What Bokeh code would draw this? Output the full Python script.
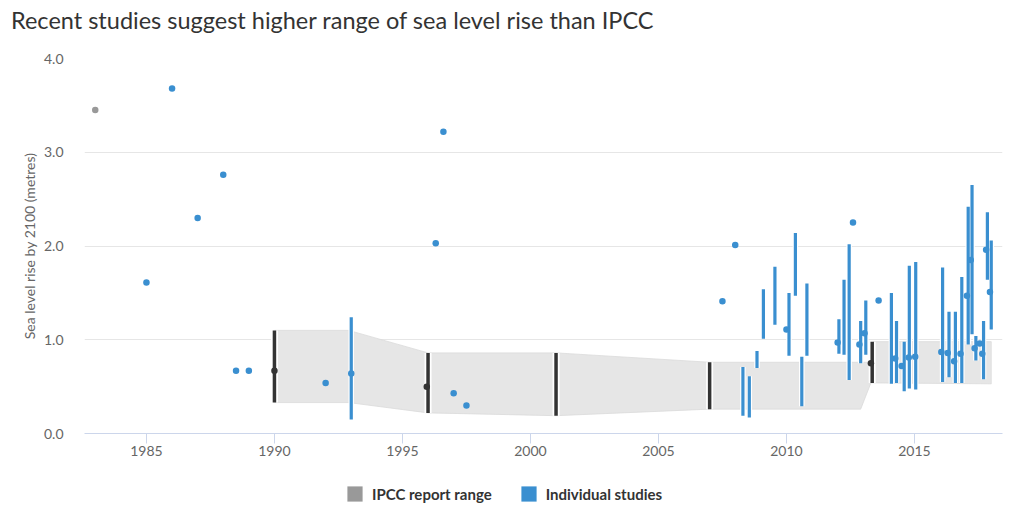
from bokeh.plotting import figure
from bokeh.layouts import column
from bokeh.models import (Range1d, FixedTicker, NumeralTickFormatter, Legend, LegendItem,
                          ColumnDataSource, Div)
from bokeh.embed import file_html
from bokeh.resources import INLINE

# ---------------- data ----------------
title_text = "Recent studies suggest higher range of sea level rise than IPCC"
y_label = "Sea level rise by 2100 (metres)"
legend_labels = ["IPCC report range", "Individual studies"]
x_ticks = [1985, 1990, 1995, 2000, 2005, 2010, 2015]
y_ticks = [0, 1, 2, 3, 4]

# IPCC report ranges (vertical bars)
ipcc_years = [1990.0, 1996.0, 2001.0, 2007.0, 2013.35]
ipcc_low = [0.33, 0.22, 0.19, 0.26, 0.54]
ipcc_high = [1.10, 0.86, 0.86, 0.76, 0.98]

# IPCC central estimates (black dots)
ipcc_pt_years = [1990.0, 1995.95, 2013.3]
ipcc_pt_vals = [0.67, 0.50, 0.75]

# early IPCC-related estimate (grey dot)
grey_pt_years = [1983.0]
grey_pt_vals = [3.45]

# shaded IPCC envelope
band_years = [1990.0, 1992.9, 1996.0, 2001.0, 2007.0, 2012.9, 2013.3, 2013.4, 2018.0]
band_low = [0.33, 0.33, 0.22, 0.19, 0.26, 0.26, 0.54, 0.54, 0.53]
band_high = [1.10, 1.10, 0.86, 0.86, 0.76, 0.76, 0.76, 0.98, 0.98]

# individual studies: central estimates
study_pt_years = [1985.0, 1986.0, 1987.0, 1988.0, 1988.5, 1989.0, 1992.0, 1993.0,
                  1996.3, 1996.6, 1997.0, 1997.5, 2007.5, 2008.0, 2010.0, 2012.0,
                  2012.6, 2012.85, 2013.05, 2013.6, 2014.25, 2014.5, 2014.78, 2015.03,
                  2016.05, 2016.3, 2016.55, 2016.8, 2017.05, 2017.2, 2017.35, 2017.55,
                  2017.65, 2017.8, 2017.95]
study_pt_vals = [1.61, 3.68, 2.30, 2.76, 0.67, 0.67, 0.54, 0.64,
                 2.03, 3.22, 0.43, 0.30, 1.41, 2.01, 1.11, 0.97,
                 2.25, 0.95, 1.07, 1.42, 0.80, 0.72, 0.81, 0.82,
                 0.87, 0.86, 0.77, 0.85, 1.47, 1.85, 0.91, 0.96,
                 0.85, 1.96, 1.51]

# individual studies: ranges
study_rng_years = [1993.0, 2008.3, 2008.55, 2008.85, 2009.1, 2009.55, 2010.1, 2010.35,
                   2010.6, 2010.8, 2012.05, 2012.25, 2012.45, 2012.9, 2013.1, 2014.1,
                   2014.3, 2014.6, 2014.8, 2015.05, 2016.1, 2016.35, 2016.6, 2016.85,
                   2017.1, 2017.25, 2017.4, 2017.7, 2017.85, 2018.0]
study_rng_low = [0.15, 0.19, 0.17, 0.70, 1.01, 1.16, 0.83, 1.47,
                 0.29, 0.83, 0.85, 0.84, 0.57, 0.75, 0.84, 0.53,
                 0.54, 0.45, 0.48, 0.47, 0.55, 0.60, 0.54, 0.54,
                 0.95, 1.06, 0.78, 0.58, 1.64, 1.11]
study_rng_high = [1.24, 0.71, 0.61, 0.88, 1.54, 1.78, 1.50, 2.14,
                  0.82, 1.60, 1.22, 1.64, 2.02, 1.20, 1.42, 1.50,
                  1.20, 0.98, 1.79, 1.83, 1.77, 1.30, 1.30, 1.67,
                  2.42, 2.65, 1.04, 1.20, 2.36, 2.06]

# ---------------- style ----------------
FONT = "Lato"
BLUE = "#3a8fd0"
GREY = "#999999"
DARK = "#333333"
BAND = "#e6e6e6"
W = 1020

# ---- title strip ----
TOP_H = 44
top = Div(text=title_text, width=W, height=TOP_H, margin=0,
          styles={"font-family": FONT, "font-size": "23.5px", "color": DARK,
                  "padding-left": "11px", "padding-top": "6px", "line-height": "28px",
                  "box-sizing": "border-box", "white-space": "nowrap"})

# ---- main chart ----
p = figure(frame_width=918, frame_height=375, output_backend="svg", toolbar_location=None,
           x_range=Range1d(1982.58, 2018.44), y_range=Range1d(0, 4),
           min_border_left=84, min_border_right=W - 84 - 918, min_border_top=58 - TOP_H,
           min_border_bottom=36)
p.outline_line_color = None
p.background_fill_color = "white"

band_xs = band_years + band_years[::-1]
band_ys = band_high + band_low[::-1]
p.patch(band_xs, band_ys, fill_color=BAND, line_color="#dadada", line_width=0.8)

ipcc_src = ColumnDataSource(dict(x=ipcc_years, lo=ipcc_low, hi=ipcc_high))
p.segment(x0="x", x1="x", y0="lo", y1="hi", source=ipcc_src, line_color="white", line_width=7)
p.segment(x0="x", x1="x", y0="lo", y1="hi", source=ipcc_src, line_color=DARK, line_width=3.5)

st_src = ColumnDataSource(dict(x=study_rng_years, lo=study_rng_low, hi=study_rng_high))
p.segment(x0="x", x1="x", y0="lo", y1="hi", source=st_src, line_color="white", line_width=5.5)
p.segment(x0="x", x1="x", y0="lo", y1="hi", source=st_src, line_color=BLUE, line_width=3.2)

p.scatter(grey_pt_years, grey_pt_vals, size=6.5, fill_color=GREY, line_color=None)
p.scatter(ipcc_pt_years, ipcc_pt_vals, size=6.5, fill_color=DARK, line_color=None)
p.scatter(study_pt_years, study_pt_vals, size=6.5, fill_color=BLUE, line_color=None)

p.xgrid.grid_line_color = None
p.ygrid.grid_line_color = "#e6e6e6"
p.ygrid.grid_line_width = 1

p.xaxis.ticker = FixedTicker(ticks=x_ticks)
p.xaxis.axis_line_color = "#ccd6eb"
p.xaxis.major_tick_line_color = "#ccd6eb"
p.xaxis.major_tick_out = 10
p.xaxis.major_tick_in = 0
p.xaxis.minor_tick_line_color = None
p.xaxis.major_label_text_font = FONT
p.xaxis.major_label_text_font_size = "14px"
p.xaxis.major_label_text_color = "#666666"
p.xaxis.major_label_standoff = 2

p.yaxis.ticker = FixedTicker(ticks=y_ticks)
p.yaxis.formatter = NumeralTickFormatter(format="0.0")
p.yaxis.axis_line_color = None
p.yaxis.major_tick_line_color = None
p.yaxis.minor_tick_line_color = None
p.yaxis.major_label_text_font = FONT
p.yaxis.major_label_text_font_size = "14px"
p.yaxis.major_label_text_color = "#666666"
p.yaxis.major_label_standoff = 15
p.yaxis.axis_label = y_label
p.yaxis.axis_label_text_font = FONT
p.yaxis.axis_label_text_font_size = "14px"
p.yaxis.axis_label_text_font_style = "normal"
p.yaxis.axis_label_text_color = "#666666"
p.yaxis.axis_label_standoff = 3

# ---- legend strip (its frame is aligned with the main chart's frame) ----
BOT_H = 52
bot = figure(width=W, height=BOT_H, output_backend="svg", toolbar_location=None,
             x_range=Range1d(0, 918), y_range=Range1d(0, BOT_H),
             x_axis_location=None, y_axis_location=None,
             min_border_left=0, min_border_right=0, min_border_top=0, min_border_bottom=0)
bot.outline_line_color = None
bot.xgrid.grid_line_color = None
bot.ygrid.grid_line_color = None
# swatch renderers kept outside the visible range; only their legend glyphs show
swatch_src = ColumnDataSource(dict(l=[-60], r=[-50], b=[0], t=[10]))
lg_grey = bot.quad(left="l", right="r", bottom="b", top="t", source=swatch_src,
                   fill_color=GREY, line_color=None)
lg_blue = bot.quad(left="l", right="r", bottom="b", top="t", source=swatch_src,
                   fill_color=BLUE, line_color=None)
legend = Legend(items=[LegendItem(label=legend_labels[0], renderers=[lg_grey]),
                       LegendItem(label=legend_labels[1], renderers=[lg_blue])],
                orientation="horizontal", location=(261, 18),
                glyph_width=19, glyph_height=19, label_standoff=8, spacing=27,
                label_text_font=FONT, label_text_font_size="15px",
                label_text_font_style="bold", label_text_color=DARK,
                border_line_color=None, background_fill_alpha=0,
                padding=0, margin=0)
bot.add_layout(legend, "center")

layout = column(top, p, bot)
open("out.html", "w").write(file_html(layout, INLINE))
